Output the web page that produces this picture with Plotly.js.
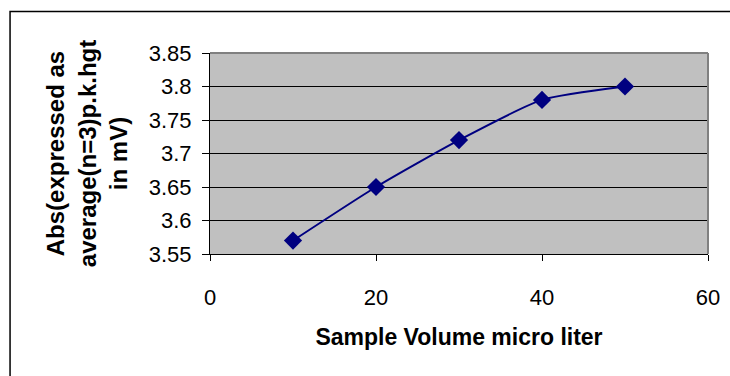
<!DOCTYPE html>
<html>
<head>
<meta charset="utf-8">
<script src="https://cdn.plot.ly/plotly-3.0.1.min.js"></script>
<style>
  html, body { margin: 0; padding: 0; background: #fff; }
  #chart { width: 730px; height: 376px; }
</style>
</head>
<body>
<div id="chart"></div>
<script>
// Sample volume (µL) vs. averaged peak height (mV)
const sampleVolume = [10, 20, 30, 40, 50];
const peakHeight = [3.57, 3.65, 3.72, 3.78, 3.80];
const yTicks = [3.55, 3.6, 3.65, 3.7, 3.75, 3.8, 3.85];
const yTickLabels = ['3.55', '3.6', '3.65', '3.7', '3.75', '3.8', '3.85'];
const xTicks = [0, 20, 40, 60];

const FONT = 'Liberation Sans, Arial, sans-serif';

const trace = {
  x: sampleVolume,
  y: peakHeight,
  type: 'scatter',
  mode: 'lines+markers',
  line: { color: '#000080', width: 2, shape: 'spline', smoothing: 0.6 },
  marker: { symbol: 'diamond', size: 14, color: '#000080' },
  cliponaxis: false,
  hoverinfo: 'x+y'
};

const layout = {
  width: 730,
  height: 376,
  margin: { l: 210, r: 22, t: 53, b: 122 },
  paper_bgcolor: '#ffffff',
  plot_bgcolor: '#c0c0c0',
  showlegend: false,
  font: { family: FONT, size: 22, color: '#000' },
  xaxis: {
    range: [0, 60],
    tickvals: xTicks,
    ticktext: xTicks.map(String),
    ticks: 'outside',
    ticklen: 6,
    tickcolor: '#000',
    ticklabelstandoff: 18,
    showline: true,
    linecolor: '#000',
    linewidth: 1,
    showgrid: false,
    zeroline: false,
    tickfont: { family: FONT, size: 22, color: '#000' },
    title: {
      text: 'Sample Volume micro liter',
      font: { family: FONT, size: 23, color: '#000', weight: 'bold' },
      standoff: 19
    }
  },
  yaxis: {
    range: [3.55, 3.85],
    tickvals: yTicks,
    ticktext: yTickLabels,
    ticks: 'outside',
    ticklen: 7,
    tickcolor: '#000',
    ticklabelstandoff: 6,
    showline: true,
    linecolor: '#000',
    linewidth: 1,
    showgrid: true,
    gridcolor: '#000',
    gridwidth: 1,
    zeroline: false,
    tickfont: { family: FONT, size: 22, color: '#000' },
    title: {
      text: 'Abs(expressed as<br>average(n=3)p.k.hgt<br>in mV)',
      font: { family: FONT, size: 24, color: '#000', weight: 'bold' },
      standoff: 14
    }
  },
  shapes: [
    // grey frame on the top and right edges of the plotting area
    { type: 'line', xref: 'paper', yref: 'paper', x0: 0, x1: 1, y0: 1, y1: 1,
      line: { color: '#808080', width: 2 } },
    { type: 'line', xref: 'paper', yref: 'paper', x0: 1, x1: 1, y0: 0, y1: 1,
      line: { color: '#808080', width: 2 } },
    // outer chart border
    { type: 'rect', xref: 'paper', yref: 'paper',
      x0: -0.4015, x1: 1.1, y0: -0.7, y1: 1.2065,
      line: { color: '#000', width: 1.5 }, fillcolor: 'rgba(0,0,0,0)', layer: 'below' }
  ]
};

Plotly.newPlot('chart', [trace], layout, { displayModeBar: false, staticPlot: true });
</script>
</body>
</html>
